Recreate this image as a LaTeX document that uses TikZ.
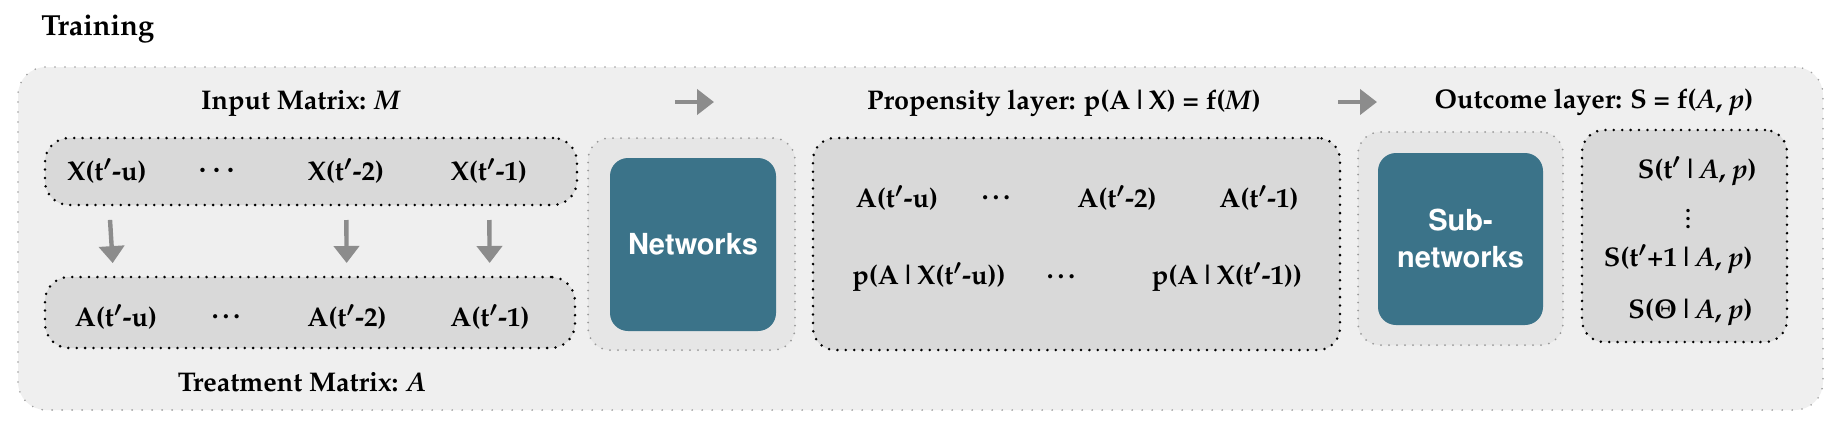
\documentclass[tikz,border=0pt]{standalone}
\usepackage[T1]{fontenc}
\usepackage{mathpazo}
\usepackage{helvet}
\usetikzlibrary{arrows.meta}
\definecolor{teal}{HTML}{3B7389}
\definecolor{paper}{HTML}{EFEFEF}
\definecolor{panel}{HTML}{D9D9D9}
\definecolor{shell}{HTML}{E6E6E6}
\definecolor{flowgray}{HTML}{8C8C8C}
\newcommand{\tp}{t\ensuremath{'}}
\newcommand{\given}{\hspace{0.04em}\textbar\hspace{0.04em}}
\tikzset{
  lbl/.style={font=\fontsize{13.5}{16}\selectfont\bfseries\boldmath,inner sep=0pt},
  frame/.style={draw=gray!75,fill=paper,line width=0.9pt,line cap=round,dash pattern=on 0pt off 5pt,rounded corners=14pt,inner sep=0pt,outer sep=0pt},
  databox/.style={draw=black,fill=panel,line width=1.4pt,line cap=round,dash pattern=on 0pt off 4.2pt,rounded corners=12pt,inner sep=0pt,outer sep=0pt},
  shellbox/.style={draw=gray!80,fill=shell,line width=1pt,line cap=round,dash pattern=on 0pt off 4pt,rounded corners=11pt,inner sep=0pt,outer sep=0pt},
  netbox/.style={fill=teal,text=white,rounded corners=9pt,inner sep=0pt,outer sep=0pt,align=center,font=\sffamily\bfseries\fontsize{14.5}{18.5}\selectfont},
  flow/.style={draw=flowgray,line width=2.2pt,-{Triangle[length=8.5pt,width=12.5pt]}}
}

\begin{document}
\begin{tikzpicture}[x=0.5pt,y=-0.5pt]
\useasboundingbox (0,0) rectangle (1842,436);
\node[lbl,anchor=west,font=\fontsize{14.5}{17}\selectfont\bfseries] (title) at (41,29) {Training};
\node[frame,minimum width=902.5pt,minimum height=171.5pt] (outer) at (920.5,238.5) {};

% input side
\node[lbl] (intitle) at (301,103) {Input Matrix: \textit{M}};
\node[databox,minimum width=266pt,minimum height=33.5pt] (xrow) at (311,171.5) {};
\node[lbl] (x1) at (107,171) {X(\tp-u)};
\node[lbl] (xd) at (217,171) {$\cdots$};
\node[lbl] (x2) at (346,171) {X(\tp-2)};
\node[lbl] (x3) at (489,171) {X(\tp-1)};
\node[databox,minimum width=265pt,minimum height=35.5pt] (arow) at (310,312.5) {};
\node[lbl] (a1) at (116,317) {A(\tp-u)};
\node[lbl] (ad) at (228,317) {\ldots};
\node[lbl] (a2) at (347,317) {A(\tp-2)};
\node[lbl] (a3) at (490,317) {A(\tp-1)};
\node[lbl] (trtitle) at (302,382) {Treatment Matrix: \textit{A}};
\foreach \i in {1,2,3}
  \draw[flow,shorten <=24.5pt,shorten >=27pt] (x\i.center) -- (a\i.center);

% propensity layer
\coordinate (p1s) at (675,102);
\coordinate (p1e) at (714,102);
\draw[flow] (p1s) -- (p1e);
\node[lbl] (proptitle) at (1064,103) {Propensity layer: p(A\given X) = f(\textit{M})};
\node[shellbox,minimum width=103.5pt,minimum height=106pt] (netshell) at (691.5,244) {};
\node[netbox,minimum width=83pt,minimum height=86.5pt] (net) at (693,244.5) {Networks};
\node[databox,minimum width=263.5pt,minimum height=106pt,rounded corners=11pt] (propbox) at (1076.5,244) {};
\node[lbl] (pa1) at (897,198) {A(\tp-u)};
\node[lbl] (pad) at (998,198) {\ldots};
\node[lbl] (pa2) at (1117,198) {A(\tp-2)};
\node[lbl] (pa3) at (1259,198) {A(\tp-1)};
\node[lbl] (pp1) at (929,277) {p(A\given X(\tp-u))};
\node[lbl] (ppd) at (1063,277) {\ldots};
\node[lbl] (pp2) at (1227,277) {p(A\given X(\tp-1))};

% outcome layer
\coordinate (p2s) at (1338,102);
\coordinate (p2e) at (1377,102);
\draw[flow] (p2s) -- (p2e);
\node[lbl] (outtitle) at (1594,102) {Outcome layer: S = f(\textit{A}, \textit{p})};
\node[shellbox,minimum width=102.5pt,minimum height=106.5pt] (subshell) at (1460.5,238.5) {};
\node[netbox,minimum width=82.5pt,minimum height=86pt] (sub) at (1460.5,239) {Sub-\\networks};
\node[databox,minimum width=102.5pt,minimum height=106pt,rounded corners=11pt] (sbox) at (1684.5,236) {};
\node[lbl,anchor=east] (s1) at (1757,171) {S(\tp\given\textit{A}, \textit{p})};
\node[lbl,font=\fontsize{11}{12}\selectfont\bfseries] (sd) at (1688,213) {$\vdots$};
\node[lbl,anchor=east] (s2) at (1753,259) {S(\tp+1\given\textit{A}, \textit{p})};
\node[lbl,anchor=east] (s3) at (1753,312) {S($\Theta$\given\textit{A}, \textit{p})};
\end{tikzpicture}
\end{document}
